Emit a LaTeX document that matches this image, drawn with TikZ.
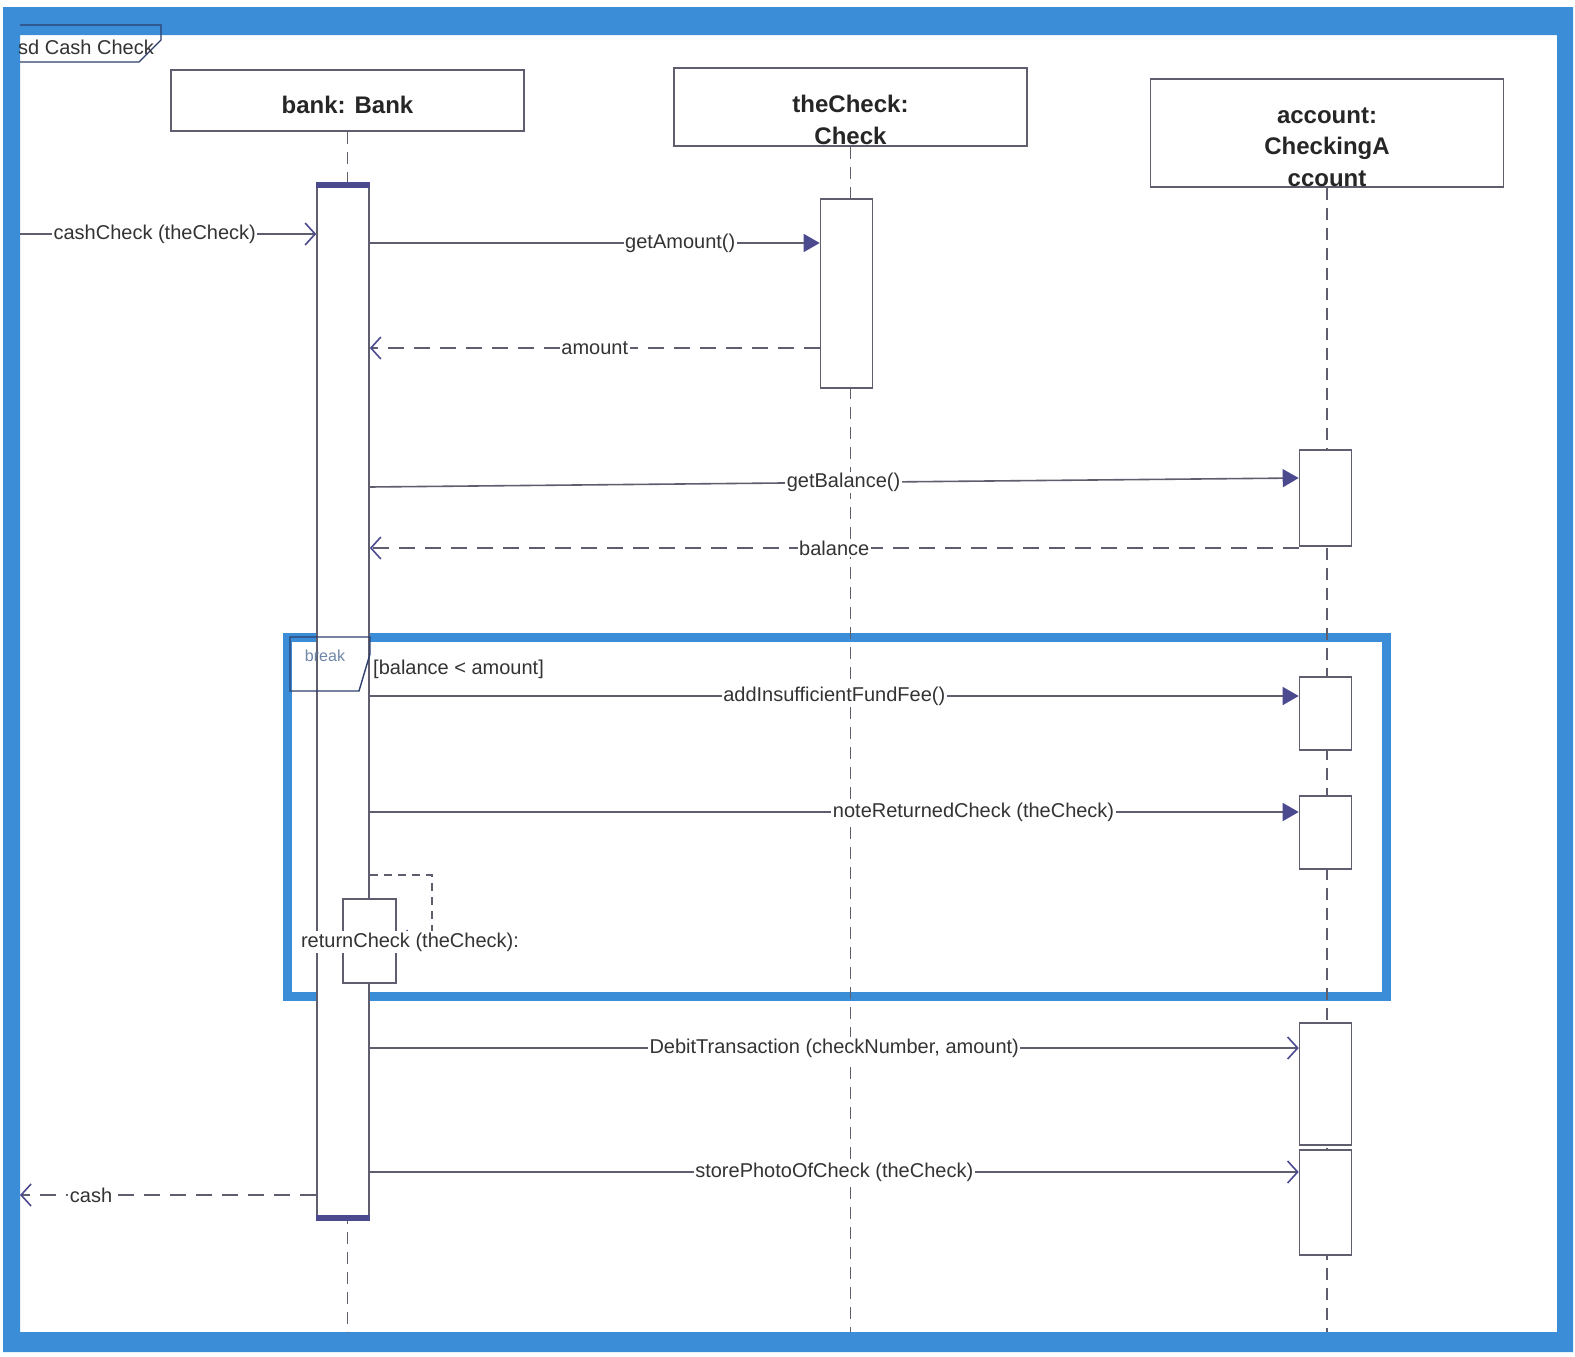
\documentclass[tikz,border=0pt]{standalone}
\usepackage{fontspec}
\setmainfont{Liberation Sans}
\usetikzlibrary{arrows.meta}
\definecolor{framebl}{HTML}{3A8DD6}
\definecolor{linegr}{HTML}{5E5E6E}
\definecolor{tipvio}{HTML}{4B4A8E}
\definecolor{navy}{HTML}{2E3F6E}
\definecolor{tabtxt}{HTML}{6E86A8}

\begin{document}
\begin{tikzpicture}[x=1pt,y=-1pt,
    lifebox/.style={draw=linegr, line width=1.6pt, fill=white, minimum width=353pt, inner sep=0pt},
    headtxt/.style={font=\fontsize{24}{31.5}\selectfont\bfseries, align=center, text=black!85, inner sep=0pt},
    lifeline/.style={draw=linegr, line width=1.6pt, dash pattern=on 12pt off 8pt},
    actbar/.style={draw=linegr, line width=1.6pt, fill=white, minimum width=52pt, inner sep=0pt},
    call/.style={draw=linegr, line width=1.6pt, -{Triangle[length=16pt,width=18pt,color=tipvio]}},
    send/.style={draw=linegr, line width=1.6pt, -{Straight Barb[length=10pt,width=22pt,color=tipvio]}},
    reply/.style={send, dash pattern=on 16pt off 10pt},
    selfret/.style={send, line width=1.2pt, dash pattern=on 8pt off 6pt},
    msglbl/.style={fill=white, inner sep=1.5pt, font=\fontsize{20}{24}\selectfont, text=black!80},
    bluebox/.style={draw=framebl, line width=9pt}]
    \useasboundingbox (0,0) rectangle (1575,1357);
    \fill[white] (0,0) rectangle (1575,1357);

    % Frame
    \fill[framebl, even odd rule] (3,7) rectangle (1573,1352) (20,35) rectangle (1557,1332);
    \draw[navy, line width=1.4pt] (20,25) -- (161,25) -- (161,40) -- (139,62) -- (20,62);
    \node[msglbl, fill=none, anchor=west, inner sep=0pt] (sdname) at (18,47) {sd Cash Check};
    \coordinate (bottom) at (0,1332);

    % Lifelines
    \node[lifebox, minimum height=61pt] (bank) at (347.5,100.5) {};
    \node[lifebox, minimum height=78pt] (check) at (850.5,107) {};
    \node[lifebox, minimum height=108pt] (acct) at (1327,133) {};
    \node[headtxt] (banktxt) at (347.5,105) {bank: Bank};
    \node[headtxt] (checktxt) at (850.5,120) {theCheck:\\Check};
    \node[headtxt] (accttxt) at (1327,147) {account:\\CheckingA\\ccount};

    % Break fragment
    \draw[bluebox] (287,637) rectangle (1386,996);

    \draw[lifeline] (bank.south) -- (bank.south |- bottom);
    \draw[lifeline] (check.south) -- (check.south |- bottom);
    \draw[lifeline] (acct.south) -- (acct.south |- bottom);

    % Activations
    \node[actbar, minimum height=1037pt] (bankbar) at (343,701.5) {};
    \draw[tipvio, line width=6pt] ([yshift=-3pt]bankbar.north west) -- ([yshift=-3pt]bankbar.north east);
    \draw[tipvio, line width=6pt] ([yshift=3pt]bankbar.south west) -- ([yshift=3pt]bankbar.south east);
    \node[actbar, minimum height=189pt] (checkbar) at (846.5,293.5) {};
    \node[actbar, minimum height=96pt] (acctbar1) at (1325.5,498) {};
    \node[actbar, minimum height=73pt] (acctbar2) at (1325.5,713.5) {};
    \node[actbar, minimum height=73pt] (acctbar3) at (1325.5,832.5) {};
    \node[actbar, minimum height=122pt] (acctbar4) at (1325.5,1084) {};
    \node[actbar, minimum height=105pt] (acctbar5) at (1325.5,1202.5) {};
    \node[actbar, minimum width=53pt, minimum height=84pt] (selfbar) at (369.5,941) {};

    % Break tab and guard
    \draw[navy, line width=1.4pt] (290,637) -- (370,637) -- (370,654) -- (359,691) -- (290,691) -- cycle;
    \node[text=tabtxt, font=\fontsize{16}{18}\selectfont, inner sep=0pt] (breaktxt) at (325,656) {break};
    \node[msglbl, fill=none, anchor=west, inner sep=0pt] (guard) at (373,669) {[balance < amount]};

    % Messages
    \coordinate (gatein) at (20,234);
    \coordinate (ycash) at (20,1195);
    \coordinate (yamt) at (0,243);
    \coordinate (yret) at (0,348);
    \coordinate (ybalA) at (0,487);
    \coordinate (ybalB) at (0,478);
    \coordinate (yback) at (0,548);
    \coordinate (yfee) at (0,696);
    \coordinate (ynote) at (0,812);
    \coordinate (yself) at (0,875);
    \coordinate (selfturn) at (432,875);
    \coordinate (ydebit) at (0,1048);
    \coordinate (yphoto) at (0,1172);

    \draw[send] (gatein) -- (bankbar.west |- gatein) node[msglbl, pos=0.455] (lblcash) {cashCheck (theCheck)};
    \draw[call] (bankbar.east |- yamt) -- (checkbar.west |- yamt) node[msglbl, pos=0.69] (lblamt) {getAmount()};
    \draw[reply] (checkbar.west |- yret) -- (bankbar.east |- yret) node[msglbl, pos=0.5] (lblret) {amount};
    \draw[call] (bankbar.east |- ybalA) -- (acctbar1.west |- ybalB) node[msglbl, pos=0.51] (lblbal) {getBalance()};
    \draw[reply] (acctbar1.west |- yback) -- (bankbar.east |- yback) node[msglbl, pos=0.5] (lblback) {balance};
    \draw[call] (bankbar.east |- yfee) -- (acctbar2.west |- yfee) node[msglbl, pos=0.5] (lblfee) {addInsufficientFundFee()};
    \draw[call] (bankbar.east |- ynote) -- (acctbar3.west |- ynote) node[msglbl, pos=0.65] (lblnote) {noteReturnedCheck (theCheck)};
    \draw[selfret] (bankbar.east |- yself) -- (selfturn) -- (selfturn |- selfbar.east) -- (selfbar.east);
    \node[msglbl] (lblself) at (410,942) {returnCheck (theCheck):};
    \draw[send] (bankbar.east |- ydebit) -- (acctbar4.west |- ydebit) node[msglbl, pos=0.5] (lbldebit) {DebitTransaction (checkNumber, amount)};
    \draw[send] (bankbar.east |- yphoto) -- (acctbar5.west |- yphoto) node[msglbl, pos=0.5] (lblphoto) {storePhotoOfCheck (theCheck)};
    \draw[reply] (bankbar.west |- ycash) -- (ycash) node[msglbl, pos=0.76] (lblcashout) {cash};
\end{tikzpicture}
\end{document}
